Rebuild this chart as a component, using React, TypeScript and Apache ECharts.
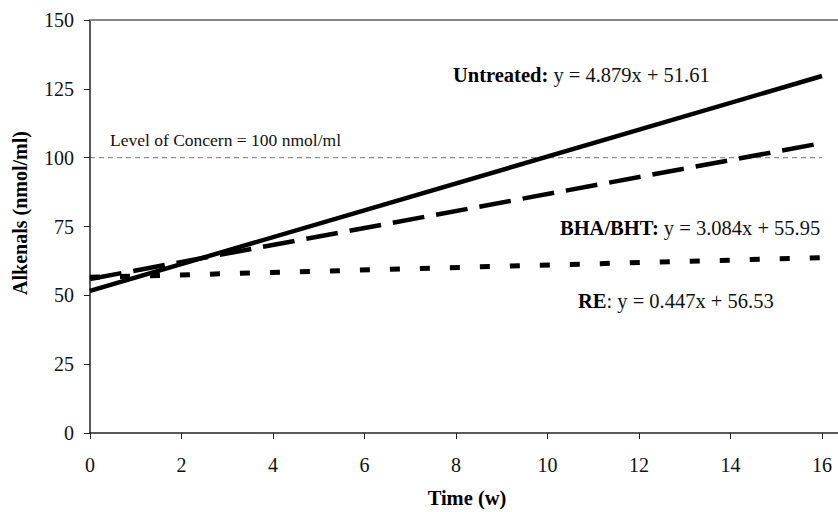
import React, { useEffect, useRef } from "react";
import * as echarts from "echarts";

const timePoints = [0, 16];
const untreated = [51.61, 129.67];
const bhaBht = [55.95, 105.29];
const re = [56.53, 63.68];
const concernLevel = [100, 100];
const xTicks = [0, 2, 4, 6, 8, 10, 12, 14, 16];
const yTicks = [0, 25, 50, 75, 100, 125, 150];

const FONT = "Liberation Serif";

export default function App() {
  const ref = useRef<HTMLDivElement>(null);
  useEffect(() => {
    if (!ref.current) return;
    const chart = echarts.init(ref.current, undefined, { renderer: "svg" });
    const pairs = (ys: number[]) => timePoints.map((t, i) => [t, ys[i]]);
    const eqText = (text: string, x: number, y: number) => ({
      type: "text",
      x,
      y,
      style: {
        text,
        fontFamily: FONT,
        fontSize: 20.5,
        fill: "#111",
        textVerticalAlign: "middle",
        rich: { b: { fontFamily: FONT, fontSize: 20.5, fontWeight: "bold", fill: "#000" } },
      },
    });
    chart.setOption({
      animation: false,
      backgroundColor: "#fff",
      textStyle: { fontFamily: FONT },
      grid: { left: 90, right: 0, top: 20, bottom: 79, containLabel: false },
      xAxis: [
        {
          type: "value",
          min: 0,
          max: 16.35,
          interval: 2,
          axisLine: { show: true, lineStyle: { color: "#222", width: 1.5 } },
          axisTick: { show: true, length: 6, inside: false, customValues: xTicks, lineStyle: { color: "#222" } },
          axisLabel: { customValues: xTicks, margin: 22, fontFamily: FONT, fontSize: 20, color: "#111" },
          splitLine: { show: false },
        },
        {
          type: "value",
          position: "top",
          min: 0,
          max: 16.35,
          axisLine: { show: true, lineStyle: { color: "#888", width: 1.8 } },
          axisTick: { show: false },
          axisLabel: { show: false },
          splitLine: { show: false },
        },
      ],
      yAxis: {
        type: "value",
        min: 0,
        max: 150,
        interval: 25,
        axisLine: { show: true, lineStyle: { color: "#222", width: 1.5 } },
        axisTick: { show: true, length: 6, lineStyle: { color: "#222" } },
        axisLabel: { customValues: yTicks, margin: 16, fontFamily: FONT, fontSize: 20, color: "#111" },
        splitLine: { show: false },
      },
      series: [
        {
          type: "line",
          name: "Level of Concern",
          data: pairs(concernLevel),
          symbol: "none",
          lineStyle: { color: "#555", width: 0.8, type: [5, 4] },
          z: 1,
        },
        {
          type: "line",
          name: "RE",
          data: pairs(re),
          symbol: "none",
          lineStyle: { color: "#000", width: 5, type: [10, 20], cap: "butt" },
          z: 2,
        },
        {
          type: "line",
          name: "BHA/BHT",
          data: pairs(bhaBht),
          symbol: "none",
          lineStyle: { color: "#000", width: 4.5, type: [32, 12], cap: "butt" },
          z: 3,
        },
        {
          type: "line",
          name: "Untreated",
          data: pairs(untreated),
          symbol: "none",
          lineStyle: { color: "#000", width: 4.5 },
          z: 4,
        },
      ],
      graphic: [
        {
          type: "text",
          x: 110,
          y: 140,
          style: {
            text: "Level of Concern = 100 nmol/ml",
            fontFamily: FONT,
            fontSize: 17.5,
            fill: "#111",
            textVerticalAlign: "middle",
          },
        },
        eqText("{b|Untreated:} y = 4.879x + 51.61", 453, 75),
        eqText("{b|BHA/BHT:} y = 3.084x + 55.95", 560, 228),
        eqText("{b|RE}: y = 0.447x + 56.53", 578, 301),
        {
          type: "text",
          x: 467,
          y: 498,
          style: {
            text: "Time (w)",
            fontFamily: FONT,
            fontSize: 20.5,
            fontWeight: "bold",
            fill: "#000",
            textAlign: "center",
            textVerticalAlign: "middle",
          },
        },
        {
          type: "text",
          x: 20,
          y: 213,
          rotation: Math.PI / 2,
          style: {
            text: "Alkenals (nmol/ml)",
            fontFamily: FONT,
            fontSize: 20,
            fontWeight: "bold",
            fill: "#000",
            textAlign: "center",
            textVerticalAlign: "middle",
          },
        },
      ],
    });
    return () => chart.dispose();
  }, []);
  return (
    <div
      ref={ref}
      style={{ position: "fixed", left: 0, top: 0, width: 838, height: 512, background: "#fff" }}
    />
  );
}
